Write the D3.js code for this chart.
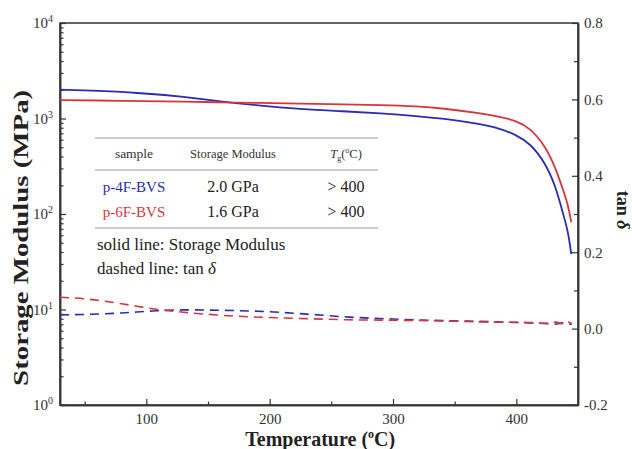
<!DOCTYPE html>
<html>
<head>
<meta charset="utf-8">
<script src="https://cdn.jsdelivr.net/npm/d3@7"></script>
<style>
  body { margin: 0; background: #fff; }
  svg { font-family: "Liberation Serif", "Times New Roman", serif; }
</style>
</head>
<body>
<div id="chart"></div>
<script>
// storage modulus (MPa) vs temperature (C)
var modT = [30, 60, 100, 130, 160, 190, 225, 260, 290, 320, 340, 370, 387, 400, 411, 423, 432, 437, 442, 444.5];
var mod4F = [2000, 1960, 1830, 1690, 1510, 1370, 1255, 1190, 1133, 1060, 1000, 880, 785, 670, 550, 353, 193, 110, 66, 38];
var mod6F = [1560, 1545, 1520, 1500, 1478, 1455, 1430, 1405, 1384, 1340, 1279, 1142, 1045, 942, 796, 528, 300, 193, 125, 82];

// tan delta vs temperature
var tanT = [30, 50, 80, 105, 130, 160, 200, 230, 265, 300, 340, 380, 410, 425, 432, 438, 442, 445];
var tan4F = [0.036, 0.037, 0.041, 0.046, 0.049, 0.048, 0.044, 0.038, 0.030, 0.025, 0.021, 0.018, 0.015, 0.013, 0.012, 0.015, 0.011, 0.012];
var tan6F = [0.082, 0.078, 0.065, 0.052, 0.043, 0.035, 0.029, 0.026, 0.023, 0.022, 0.020, 0.017, 0.016, 0.014, 0.017, 0.012, 0.017, 0.013];

// table contents
var tableHead = ["sample", "Storage Modulus", "Tg"];
var sampleNames = ["p-4F-BVS", "p-6F-BVS"];
var sampleModulus = ["2.0 GPa", "1.6 GPa"];
var sampleTg = ["> 400", "> 400"];

var xTicks = [100, 200, 300, 400];
var xMinor = [50, 150, 250, 350];
var yTicks = [1, 10, 100, 1000, 10000];
var y2Ticks = [-0.2, 0, 0.2, 0.4, 0.6, 0.8];
var y2Minor = [-0.1, 0.1, 0.3, 0.5, 0.7];

var blue = "#2b2bb3", red = "#d8353b";

var margin = {top: 23, right: 54, bottom: 44, left: 60},
    width = 632 - margin.left - margin.right,
    height = 449 - margin.top - margin.bottom;

var svg = d3.select("#chart")
  .append("svg")
    .attr("width", 632)
    .attr("height", 449)
  .append("g")
    .attr("transform", "translate(" + margin.left + "," + margin.top + ")");

var x = d3.scaleLinear().domain([30, 450]).range([0, width]);
var y = d3.scaleLog().domain([1, 10000]).range([height, 0]);
var y2 = d3.scaleLinear().domain([-0.2, 0.8]).range([height, 0]);

// frame
svg.append("rect")
  .attr("width", width).attr("height", height)
  .attr("fill", "none").attr("stroke", "#333").attr("stroke-width", 1.5);

function styleAxis(g) {
  g.select(".domain").attr("stroke", "#333").attr("stroke-width", 1.5);
  g.selectAll(".tick line").attr("stroke", "#333").attr("stroke-width", 1.2);
  g.selectAll("text").attr("font-family", "Liberation Serif").attr("font-size", 15).attr("fill", "#333");
}

// bottom axis
svg.append("g")
  .attr("transform", "translate(0," + height + ")")
  .call(d3.axisBottom(x).tickValues(xTicks).tickSize(-6).tickSizeOuter(0).tickPadding(8))
  .call(styleAxis);
svg.append("g")
  .attr("transform", "translate(0," + height + ")")
  .call(d3.axisBottom(x).tickValues(xMinor).tickSize(-3.5).tickSizeOuter(0).tickFormat(""))
  .call(styleAxis);

// left log axis
var yMinor = [];
[1, 10, 100, 1000].forEach(function(b) { for (var k = 2; k <= 9; k++) yMinor.push(b * k); });
var leftAx = svg.append("g")
  .call(d3.axisLeft(y).tickValues(yTicks).tickSize(-6).tickSizeOuter(0).tickFormat(function(d) { return "10"; }))
  .call(styleAxis);
leftAx.selectAll(".tick text")
  .attr("x", -7)
  .append("tspan")
    .attr("font-size", 10)
    .attr("dy", "-0.6em")
    .text(function(d) { return Math.round(Math.log10(d)); });
svg.append("g")
  .call(d3.axisLeft(y).tickValues(yMinor).tickSize(-3.5).tickSizeOuter(0).tickFormat(""))
  .call(styleAxis);

// right axis
svg.append("g")
  .attr("transform", "translate(" + width + ",0)")
  .call(d3.axisRight(y2).tickValues(y2Ticks).tickSize(-6).tickSizeOuter(0).tickPadding(6)
    .tickFormat(function(d) { return d.toFixed(1); }))
  .call(styleAxis);
svg.append("g")
  .attr("transform", "translate(" + width + ",0)")
  .call(d3.axisRight(y2).tickValues(y2Minor).tickSize(-4).tickSizeOuter(0).tickFormat(""))
  .call(styleAxis);

// axis titles
svg.append("text")
  .attr("x", x(241))
  .attr("y", height + 41)
  .attr("text-anchor", "middle")
  .attr("font-size", 20).attr("font-weight", "bold").attr("fill", "#222")
  .text("Temperature (")
  .call(function(t) {
    t.append("tspan").attr("font-size", 12).attr("dy", -8).text("o");
    t.append("tspan").attr("dy", 8).text("C)");
  });

svg.append("text")
  .attr("transform", "translate(" + (-32) + "," + (y(Math.pow(10, 1.75))) + ") rotate(-90)")
  .attr("text-anchor", "middle")
  .attr("font-size", 22).attr("font-weight", "bold").attr("fill", "#222")
  .attr("textLength", 296).attr("lengthAdjust", "spacingAndGlyphs")
  .text("Storage Modulus (MPa)");

svg.append("text")
  .attr("transform", "translate(" + (width + 39) + "," + y2(0.31) + ") rotate(90)")
  .attr("text-anchor", "middle")
  .attr("font-size", 18).attr("font-weight", "bold").attr("fill", "#222")
  .text("tan ")
  .append("tspan").attr("font-style", "italic").text("δ");

// curves
var modLine = function(vals) {
  return d3.line()
    .x(function(d, i) { return x(modT[i]); })
    .y(function(d) { return y(d); })
    .curve(d3.curveBasis)(vals);
};
var tanLine = function(vals) {
  return d3.line()
    .x(function(d, i) { return x(tanT[i]); })
    .y(function(d) { return y2(d); })
    .curve(d3.curveMonotoneX)(vals);
};

svg.append("path").attr("d", tanLine(tan4F))
  .attr("fill", "none").attr("stroke", blue).attr("stroke-width", 1.6).attr("stroke-dasharray", "9,6");
svg.append("path").attr("d", tanLine(tan6F))
  .attr("fill", "none").attr("stroke", red).attr("stroke-width", 1.6).attr("stroke-dasharray", "9,6");
svg.append("path").attr("d", modLine(mod4F))
  .attr("fill", "none").attr("stroke", blue).attr("stroke-width", 1.8);
svg.append("path").attr("d", modLine(mod6F))
  .attr("fill", "none").attr("stroke", red).attr("stroke-width", 1.8);

// table inset
var tb = svg.append("g").attr("transform", "translate(" + (-margin.left) + "," + (-margin.top) + ")");
var colX = [134, 233, 346];
[138, 170, 228].forEach(function(ly) {
  tb.append("line").attr("x1", 95).attr("x2", 378).attr("y1", ly).attr("y2", ly)
    .attr("stroke", "#999").attr("stroke-width", 1.2);
});
tb.append("text").attr("x", colX[0]).attr("y", 158).attr("text-anchor", "middle")
  .attr("font-size", 13.5).attr("fill", "#333").text(tableHead[0]);
tb.append("text").attr("x", colX[1]).attr("y", 158).attr("text-anchor", "middle")
  .attr("font-size", 12.5).attr("fill", "#333").text(tableHead[1]);
tb.append("text").attr("x", colX[2]).attr("y", 158).attr("text-anchor", "middle")
  .attr("font-size", 12.5).attr("fill", "#333")
  .call(function(t) {
    t.append("tspan").attr("font-style", "italic").text("T");
    t.append("tspan").attr("font-size", 8).attr("dy", 3).text("g");
    t.append("tspan").attr("dy", -3).text("(");
    t.append("tspan").attr("font-size", 8).attr("dy", -5).text("o");
    t.append("tspan").attr("dy", 5).text("C)");
  });
sampleNames.forEach(function(n, i) {
  var ry = 192 + i * 25;
  tb.append("text").attr("x", colX[0]).attr("y", ry).attr("text-anchor", "middle")
    .attr("font-size", 15).attr("fill", i === 0 ? blue : red).text(n);
  tb.append("text").attr("x", colX[1]).attr("y", ry).attr("text-anchor", "middle")
    .attr("font-size", 16).attr("fill", "#222").text(sampleModulus[i]);
  tb.append("text").attr("x", colX[2]).attr("y", ry).attr("text-anchor", "middle")
    .attr("font-size", 16).attr("fill", "#222").text(sampleTg[i]);
});
tb.append("text").attr("x", 97).attr("y", 250)
  .attr("font-size", 17).attr("fill", "#222").text("solid line: Storage Modulus");
tb.append("text").attr("x", 97).attr("y", 274)
  .attr("font-size", 17).attr("fill", "#222").text("dashed line: tan ")
  .append("tspan").attr("font-style", "italic").text("δ");
</script>
</body>
</html>
